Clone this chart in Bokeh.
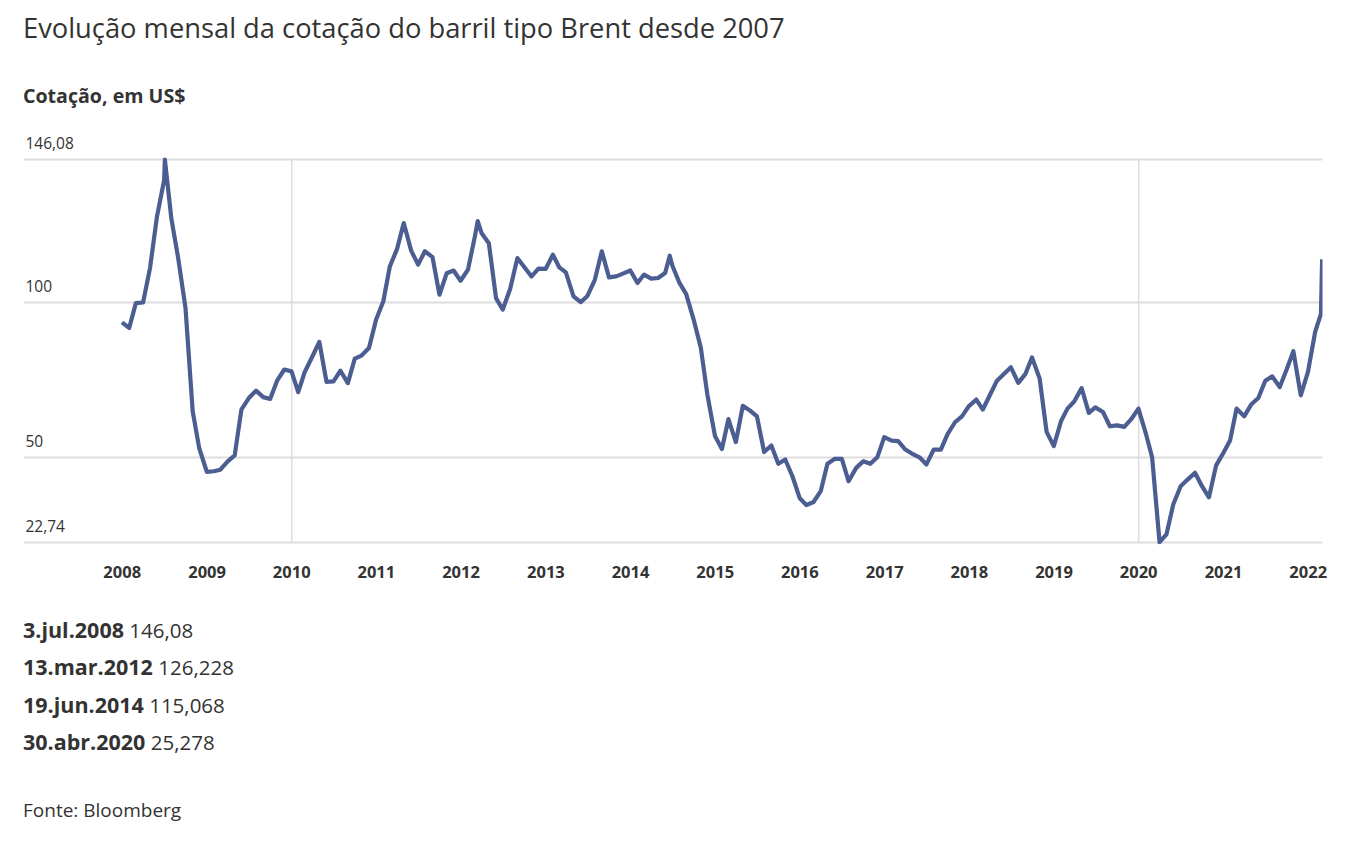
import pandas as pd
from bokeh.plotting import figure
from bokeh.layouts import column
from bokeh.models import (ColumnDataSource, Range1d, FixedTicker, Grid, DatetimeAxis,
                          DatetimeTickFormatter, Label, Div)
from bokeh.embed import file_html
from bokeh.resources import INLINE

# Brent, fechamento mensal (US$) + picos destacados
dates = [
    "2007-12-31",
    "2008-01-31", "2008-02-29", "2008-03-31", "2008-04-30", "2008-05-30", "2008-06-30",
    "2008-07-03", "2008-07-31", "2008-08-29", "2008-09-30", "2008-10-31", "2008-11-28", "2008-12-31",
    "2009-01-30", "2009-02-27", "2009-03-31", "2009-04-30", "2009-05-29", "2009-06-30",
    "2009-07-31", "2009-08-31", "2009-09-30", "2009-10-30", "2009-11-30", "2009-12-31",
    "2010-01-29", "2010-02-26", "2010-03-31", "2010-04-30", "2010-05-31", "2010-06-30",
    "2010-07-30", "2010-08-31", "2010-09-30", "2010-10-29", "2010-11-30", "2010-12-31",
    "2011-01-31", "2011-02-28", "2011-03-31", "2011-04-29", "2011-05-31", "2011-06-30",
    "2011-07-29", "2011-08-31", "2011-09-30", "2011-10-31", "2011-11-30", "2011-12-30",
    "2012-01-31", "2012-02-29", "2012-03-13", "2012-03-30", "2012-04-30", "2012-05-31", "2012-06-29",
    "2012-07-31", "2012-08-31", "2012-09-28", "2012-10-31", "2012-11-30", "2012-12-31",
    "2013-01-31", "2013-02-28", "2013-03-28", "2013-04-30", "2013-05-31", "2013-06-28",
    "2013-07-31", "2013-08-30", "2013-09-30", "2013-10-31", "2013-11-29", "2013-12-31",
    "2014-01-31", "2014-02-28", "2014-03-31", "2014-04-30", "2014-05-30", "2014-06-19", "2014-06-30",
    "2014-07-31", "2014-08-29", "2014-09-30", "2014-10-31", "2014-11-28", "2014-12-31",
    "2015-01-30", "2015-02-27", "2015-03-31", "2015-04-30", "2015-05-29", "2015-06-30",
    "2015-07-31", "2015-08-31", "2015-09-30", "2015-10-30", "2015-11-30", "2015-12-31",
    "2016-01-29", "2016-02-29", "2016-03-31", "2016-04-29", "2016-05-31", "2016-06-30",
    "2016-07-29", "2016-08-31", "2016-09-30", "2016-10-31", "2016-11-30", "2016-12-30",
    "2017-01-31", "2017-02-28", "2017-03-31", "2017-04-28", "2017-05-31", "2017-06-30",
    "2017-07-31", "2017-08-31", "2017-09-29", "2017-10-31", "2017-11-30", "2017-12-29",
    "2018-01-31", "2018-02-28", "2018-03-30", "2018-04-30", "2018-05-31", "2018-06-29",
    "2018-07-31", "2018-08-31", "2018-09-28", "2018-10-31", "2018-11-30", "2018-12-31",
    "2019-01-31", "2019-02-28", "2019-03-29", "2019-04-30", "2019-05-31", "2019-06-28",
    "2019-07-31", "2019-08-30", "2019-09-30", "2019-10-31", "2019-11-29", "2019-12-31",
    "2020-01-31", "2020-02-28", "2020-03-31", "2020-04-30", "2020-05-29", "2020-06-30",
    "2020-07-31", "2020-08-31", "2020-09-30", "2020-10-30", "2020-11-30", "2020-12-31",
    "2021-01-29", "2021-02-26", "2021-03-31", "2021-04-30", "2021-05-31", "2021-06-30",
    "2021-07-30", "2021-08-31", "2021-09-30", "2021-10-29", "2021-11-30", "2021-12-31",
    "2022-01-31", "2022-02-25", "2022-03-02",
]
prices = [
    93.6,
    91.8, 99.8, 100.0, 111.1, 127.7, 139.5,
    146.08, 127.0, 114.5, 98.2, 64.9, 53.1, 45.4,
    45.6, 46.1, 48.8, 50.7, 65.5, 69.2,
    71.6, 69.5, 68.9, 74.8, 78.4, 77.8,
    71.1, 77.6, 82.6, 87.3, 74.4, 74.6,
    78.0, 74.0, 81.9, 82.9, 85.3, 94.5,
    100.4, 111.6, 117.2, 125.6, 116.7, 112.2,
    116.5, 114.6, 102.5, 109.4, 110.3, 107.0,
    110.6, 121.0, 126.228, 122.3, 119.1, 101.4, 97.7,
    104.4, 114.3, 111.6, 108.4, 110.9, 110.8,
    115.4, 111.3, 109.7, 102.0, 100.1, 102.0,
    107.3, 116.5, 108.1, 108.4, 109.3, 110.3,
    106.3, 109.0, 107.7, 107.9, 109.5, 115.068, 111.9,
    106.3, 102.7, 94.5, 85.4, 70.4, 57.0,
    52.8, 62.4, 55.0, 66.7, 65.3, 63.3,
    51.8, 53.9, 48.0, 49.4, 44.0, 37.0,
    34.7, 35.7, 39.2, 48.0, 49.6, 49.6,
    42.4, 46.7, 48.8, 48.0, 50.1, 56.6,
    55.5, 55.3, 52.6, 51.3, 50.1, 47.8,
    52.6, 52.6, 57.6, 61.4, 63.3, 66.5,
    68.7, 65.5, 70.1, 74.8, 77.0, 79.1,
    74.1, 77.0, 82.3, 75.5, 58.3, 53.7,
    61.7, 65.8, 68.1, 72.4, 64.4, 66.2,
    64.7, 60.1, 60.4, 59.9, 62.3, 65.8,
    58.0, 50.1, 22.74, 25.278, 34.9, 40.8,
    43.0, 45.1, 40.8, 37.2, 47.5, 51.5,
    55.5, 65.8, 63.3, 67.1, 69.2, 74.8,
    76.2, 72.7, 78.4, 84.3, 70.1, 77.6,
    90.5, 96.3, 113.9,
]

y_ticks = [22.74, 50, 100, 146.08]
y_tick_labels = ["22,74", "50", "100", "146,08"]
years = list(range(2008, 2023))
grid_years = [2010, 2020]

hl_dates = ["3.jul.2008", "13.mar.2012", "19.jun.2014", "30.abr.2020"]
hl_values = ["146,08", "126,228", "115,068", "25,278"]

title = "Evolução mensal da cotação do barril tipo Brent desde 2007"
subtitle = "Cotação, em US$"
source_note = "Fonte: Bloomberg"

FONT = "Open Sans"
TEXT = "#333333"
LINE = "#4b5d91"
GRID = "#dddddd"


def ms(year):
    return pd.Timestamp(f"{year}-01-01").timestamp() * 1000


source = ColumnDataSource(data=dict(date=pd.to_datetime(dates), price=prices))
vgrid = ColumnDataSource(data=dict(
    x=[pd.Timestamp(f"{y}-01-01") for y in grid_years],
    y0=[y_ticks[0]] * len(grid_years),
    y1=[y_ticks[-1]] * len(grid_years),
))

p = figure(
    width=1350, height=480,
    x_axis_type="datetime", x_axis_location=None, y_axis_location=None,
    x_range=Range1d(pd.Timestamp("2006-11-01 10:00"), pd.Timestamp("2022-03-03 16:00")),
    y_range=Range1d(22.0, 157.04),
    toolbar_location=None, output_backend="svg",
    min_border_left=23, min_border_right=28, min_border_top=5, min_border_bottom=56,
)
p.outline_line_color = None
p.xgrid.visible = False
p.ygrid.visible = False

# linhas de grade
p.add_layout(Grid(dimension=1, ticker=FixedTicker(ticks=y_ticks),
                  grid_line_color=GRID, grid_line_width=2), "center")
p.segment(x0="x", y0="y0", x1="x", y1="y1", source=vgrid, line_color=GRID, line_width=1.5)

# eixo dos anos
xaxis = DatetimeAxis(
    ticker=FixedTicker(ticks=[ms(y) for y in years]),
    formatter=DatetimeTickFormatter(years="%Y", months="%Y", days="%Y", hours="%Y"),
    axis_line_color=None, major_tick_line_color=None, minor_tick_line_color=None,
    major_tick_out=0, major_tick_in=0,
    major_label_standoff=21,
    major_label_text_font=FONT, major_label_text_font_size="16.5px",
    major_label_text_font_style="bold", major_label_text_color=TEXT,
)
p.add_layout(xaxis, "below")

p.line("date", "price", source=source, line_color=LINE, line_width=4.2, line_join="round")

# valores do eixo y acima das linhas
for v, t in zip(y_ticks, y_tick_labels):
    p.add_layout(Label(
        x=2, y=v, x_units="screen", y_units="data", y_offset=16.5, text=t,
        text_font=FONT, text_font_size="15.5px", text_color=TEXT,
        text_baseline="alphabetic", text_align="left",
    ))

base = f"font-family:'{FONT}';color:{TEXT};margin:0;white-space:nowrap;padding-left:23px;"
header = Div(
    width=1350, height=120, margin=0,
    text=(
        f'<div style="{base}padding-top:13px;font-size:27.3px;line-height:30px;">{title}</div>'
        f'<div style="{base}padding-top:41px;font-size:19.6px;font-weight:bold;line-height:24px;">{subtitle}</div>'
    ),
)

rows = "".join(
    f'<div style="{base}font-size:20.5px;line-height:37.5px;height:37.5px;">'
    f'<b style="font-size:21.5px;line-height:1;">{d}</b> {v}</div>'
    for d, v in zip(hl_dates, hl_values)
)
footer = Div(
    width=1350, height=240, margin=0,
    text=(
        f'<div style="padding-top:11.5px;">{rows}</div>'
        f'<div style="{base}padding-top:35px;font-size:19px;line-height:26px;">{source_note}</div>'
    ),
)

layout = column(header, p, footer, spacing=0)

open("out.html", "w", encoding="utf-8").write(file_html(layout, INLINE))
